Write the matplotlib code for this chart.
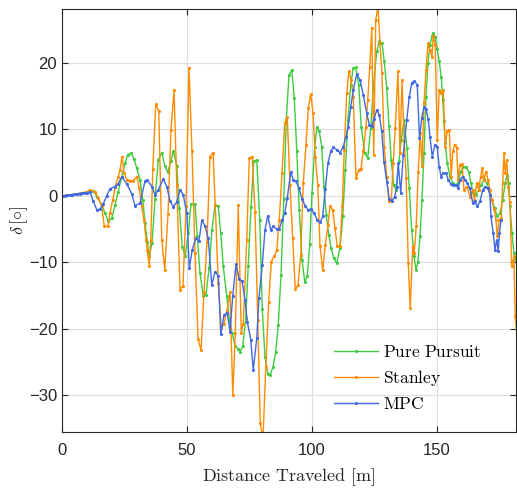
import matplotlib
matplotlib.use("Agg")
import matplotlib.pyplot as plt

plt.rcParams['font.family'] = ['Liberation Sans', 'DejaVu Sans']
plt.rcParams['mathtext.fontset'] = 'cm'

# Pure Pursuit
gx = [0, 2, 4, 6, 8, 10, 12.5, 13.9, 15.9, 17.2,
      18.5, 19.9, 21.2, 22.5, 23.9, 25.2, 26.3, 27.6, 28.8, 29.9,
      31.2, 32.3, 33.2, 34.1, 34.9, 36.0, 37.2, 38.5, 39.9, 41.1,
      42.3, 43.5, 44.5, 45.9, 46.9, 48.1, 49.3, 50.5, 51.6, 53.2,
      54.1, 55.2, 56.5, 57.6, 58.8, 60.0, 61.2, 62.5, 63.5, 64.5,
      65.9, 66.9, 68.1, 69.2, 70.3, 71.2, 72.3, 73.5, 74.5, 75.6,
      76.7, 77.9, 79.1, 80.1, 81.2, 82.3, 83.3, 84.4, 85.5, 86.5,
      87.6, 88.7, 89.7, 90.8, 91.9, 92.9, 93.9, 94.9, 96.0, 97.1,
      98.1, 99.1, 100.0, 101.1, 102.0, 102.9, 103.9, 104.8, 105.7, 106.7,
      107.7, 108.7, 109.9, 111.2, 112.3, 113.3, 114.4, 115.5, 116.5, 117.5,
      118.7, 119.7, 121.1, 122.3, 123.5, 124.5, 125.9, 126.9, 128.0, 128.9,
      129.9, 130.8, 131.7, 132.7, 133.6, 134.8, 135.7, 136.8, 138.0, 138.9,
      139.9, 140.8, 141.6, 142.4, 143.2, 144.0, 144.8, 145.6, 146.4, 147.2,
      148.0, 148.5, 149.3, 150.1, 150.9, 151.7, 152.3, 152.8, 153.3, 154.1,
      155.2, 156.3, 157.3, 158.4, 159.5, 160.5, 161.6, 162.7, 163.6, 164.5,
      165.6, 166.7, 167.7, 168.8, 169.9, 170.9, 172.0, 173.1, 174.1, 175.2,
      176.3, 177.3, 178.1, 178.7, 179.2, 180.0, 180.8, 181.6]
gy = [0, 0.1, 0.2, 0.3, 0.45, 0.6, 0.8, -0.1, -1.35, -2.6,
      -3.85, -3.35, -1.35, 0.65, 2.9, 4.9, 6.2, 6.4, 5.6, 4.15,
      2.4, -0.6, -4.1, -6.9, -9.1, -7.1, -0.45, 5.4, 6.5, 4.5,
      3.55, 5.2, 6.7, 4.5, -1.85, -7.7, -9.1, -5.6, -1.25, -1.25,
      -6.1, -11.6, -15.0, -14.9, -10.9, -5.1, -1.45, -1.55, -5.6, -10.6,
      -15.1, -18.6, -20.6, -22.5, -23.0, -23.4, -22.6, -18.4, -10.6, -1.7,
      5.2, 5.4, -3.7, -17.0, -24.2, -26.7, -26.9, -25.7, -23.4, -19.4,
      -11.9, -0.45, 11.4, 18.2, 18.9, 14.7, 6.8, -2.1, -9.6, -12.9,
      -12.1, -7.3, 0.4, 7.4, 10.4, 9.7, 7.4, 1.4, -2.9, -5.9,
      -7.9, -9.4, -10.1, -7.9, -3.1, 3.9, 11.4, 16.7, 19.2, 19.3,
      16.7, 10.4, 6.4, 5.7, 10.2, 16.2, 21.7, 23.2, 23.0, 20.2,
      16.2, 10.5, 5.4, 1.65, 0.9, 5.2, 8.4, 11.4, 7.2, 1.15,
      -5.1, -9.1, -11.1, -9.9, -6.1, -0.6, 6.4, 14.9, 19.95, 22.7,
      24.0, 24.5, 23.9, 22.0, 20.2, 17.9, 14.4, 11.2, 7.9, 4.9,
      2.9, 1.9, 1.65, 1.9, 3.65, 4.4, 4.3, 3.65, 1.9, 0.4,
      0.15, 0.9, 1.65, 2.5, 1.9, 0.9, -0.6, -1.85, -3.1, -2.6,
      -0.6, 1.9, 3.15, 1.9, -1.6, -5.6, -8.6, -9.6]

# Stanley
ox = [0, 2, 4, 6, 8, 10, 11.2, 13.2, 14.5, 15.9,
      16.9, 18.3, 19.2, 20.3, 21.3, 22.5, 23.2, 24.0, 24.8, 25.9,
      27.2, 28.5, 29.9, 30.9, 31.9, 32.8, 33.6, 34.1, 34.9, 35.5,
      36.3, 37.5, 38.7, 39.9, 41.1, 42.4, 43.6, 44.8, 45.9, 47.2,
      48.4, 49.6, 50.8, 52.0, 53.2, 54.4, 55.6, 56.8, 58.0, 59.2,
      60.4, 61.3, 62.5, 63.7, 64.8, 65.9, 67.2, 68.3, 69.3, 70.5,
      71.7, 72.5, 73.9, 74.9, 76.1, 77.2, 78.3, 79.3, 80.4, 81.5,
      82.7, 83.7, 84.8, 85.9, 86.9, 88.0, 89.1, 90.1, 91.2, 92.3,
      93.3, 94.4, 95.5, 96.5, 97.6, 98.5, 99.5, 100.4, 101.3, 102.3,
      103.2, 104.3, 105.3, 106.4, 107.2, 108.3, 109.2, 110.1, 111.2, 112.1,
      112.9, 113.9, 114.8, 115.6, 116.5, 117.6, 118.7, 119.6, 120.5, 121.6,
      122.3, 123.1, 123.9, 124.7, 125.5, 126.4, 127.2, 128.0, 128.9, 129.9,
      130.8, 131.7, 132.5, 133.3, 134.4, 135.2, 136.0, 136.9, 137.7, 138.5,
      139.3, 140.3, 140.9, 141.7, 142.5, 143.3, 144.0, 144.8, 145.6, 146.4,
      147.2, 148.0, 148.5, 149.3, 150.1, 150.9, 151.7, 152.5, 153.3, 154.1,
      154.9, 155.7, 156.3, 157.1, 157.9, 158.4, 159.2, 160.0, 160.8, 162.0,
      163.2, 164.3, 165.0, 165.9, 166.7, 167.5, 168.1, 168.8, 169.6, 170.4,
      171.2, 172.0, 172.8, 173.6, 174.1, 174.9, 175.7, 176.3, 176.8, 177.3,
      177.9, 178.5, 179.2, 179.9, 180.8, 181.3, 181.9]
oy = [0, 0.1, 0.2, 0.3, 0.45, 0.6, 0.9, 0.65, -0.35, -1.6,
      -4.6, -4.6, -2.6, -0.6, 1.4, 2.9, 3.9, 5.9, 3.4, 2.4,
      2.3, 2.3, 2.9, 1.15, -1.6, -3.6, -6.6, -8.1, -10.5, -6.6,
      4.0, 13.8, 12.7, -6.6, -11.1, -2.7, 9.9, 15.9, 1.65, -14.1,
      -13.5, -1.6, 19.2, 6.7, -8.6, -21.5, -23.2, -14.5, -6.9, 5.9,
      6.5, -1.45, -13.1, -19.9, -19.2, -17.4, -14.4, -30.0, -20.6, -1.45,
      -20.6, -19.2, -6.6, 5.65, 5.9, -2.45, -18.6, -34.2, -36.5, -25.7,
      -15.9, -9.9, -9.1, -8.2, -3.6, 3.4, 10.9, 11.8, 1.65, -6.4,
      -14.0, -13.4, -8.9, 1.9, 7.7, 13.2, 15.3, 12.4, 5.9, 1.65,
      -7.5, -11.2, -7.4, -4.4, -1.5, -2.2, -4.9, -7.6, -7.5, -1.6,
      6.9, 15.4, 18.7, 17.4, 14.9, 2.65, 3.9, 4.1, 6.7, 10.4,
      14.4, 19.4, 25.2, 6.2, 26.4, 28.5, 22.9, 18.4, 7.4, 2.9,
      -0.85, -0.75, 4.9, 10.2, 18.7, 6.4, 17.4, 8.2, 2.65, -10.1,
      -16.9, -7.6, -8.6, -4.6, 3.65, 9.5, 4.5, 13.9, 18.9, 22.9,
      21.9, 20.9, 24.0, 22.6, 8.4, 15.9, 15.4, 15.9, 7.4, 9.7,
      9.9, 2.9, 6.7, 7.7, 7.2, 2.4, 4.7, 4.8, 0.9, 1.4,
      -0.1, 0.9, -0.6, 1.9, 0.9, 2.9, 4.15, 2.4, 3.65, 2.4,
      0.9, -0.6, -2.0, -3.6, -6.1, -3.6, -3.3, 1.9, 6.4, 3.4,
      5.4, 1.4, -1.0, -10.6, -9.1, -18.1, -20.6]

# MPC
bx = [0, 1, 2, 3, 4, 5, 6, 7, 8, 9,
      10, 11.2, 12.5, 13.9, 15.2, 16.5, 17.9, 19.2, 21.2, 22.5,
      23.9, 25.9, 27.9, 29.2, 31.2, 33.2, 34.1, 35.9, 37.2, 38.5,
      40.5, 41.9, 43.2, 44.5, 45.9, 47.2, 48.5, 49.9, 50.9, 52.1,
      53.5, 54.8, 55.9, 57.2, 58.5, 59.9, 61.2, 62.5, 63.5, 64.8,
      66.1, 67.2, 68.3, 69.6, 70.9, 72.0, 73.2, 74.1, 75.5, 76.5,
      77.9, 78.8, 80.1, 81.2, 82.3, 83.5, 84.5, 85.9, 86.9, 88.0,
      89.1, 90.1, 91.5, 92.5, 93.6, 94.7, 96.0, 97.3, 98.4, 99.5,
      100.8, 102.1, 103.2, 104.3, 105.3, 106.4, 107.5, 108.5, 109.9, 111.2,
      112.5, 113.6, 114.5, 115.5, 116.5, 117.9, 119.2, 120.5, 121.9, 122.9,
      123.9, 124.9, 125.9, 126.9, 127.9, 128.8, 129.9, 130.9, 132.0, 133.1,
      133.9, 134.5, 135.5, 136.5, 137.9, 138.9, 139.9, 141.0, 142.1, 143.0,
      143.9, 144.8, 145.6, 146.5, 147.2, 148.1, 149.2, 150.1, 150.9, 151.6,
      152.5, 153.6, 154.5, 155.5, 156.5, 157.6, 158.5, 159.2, 160.3, 161.2,
      162.1, 163.2, 164.3, 165.2, 166.1, 167.2, 168.3, 169.2, 170.3, 171.2,
      171.6, 172.5, 173.2, 173.9, 174.5, 175.0, 175.6]
by = [0, 0.05, 0.1, 0.15, 0.2, 0.25, 0.3, 0.35, 0.4, 0.45,
      0.5, 0.55, -0.8, -2.1, -2.0, -1.2, 0.05, 1.05, 1.4, 1.8,
      2.9, 1.8, 0.3, -1.5, -1.1, 2.2, 2.4, 1.4, 0.15, 0.9,
      2.55, 1.4, -0.75, -1.7, -0.9, 0.9, 0.15, -2.6, -10.9, -8.1,
      -6.4, -6.8, -3.7, -4.5, -6.4, -13.4, -11.4, -12.0, -20.8, -17.9,
      -17.6, -20.4, -15.0, -10.3, -12.5, -12.8, -15.6, -18.9, -21.6, -26.2,
      -21.4, -15.3, -10.4, -5.1, -3.0, -5.1, -4.6, -5.0, -5.0, -3.7,
      -2.6, -0.35, 3.6, 2.4, 2.2, 1.2, -0.45, -1.5, -2.1, -2.0,
      -2.6, -3.6, -4.0, -3.1, 1.05, 4.9, 6.7, 7.3, 6.9, 6.5,
      7.4, 8.9, 10.4, 13.3, 15.9, 18.3, 17.4, 15.2, 12.4, 10.7,
      10.5, 11.6, 12.9, 12.2, 9.7, 5.1, 2.15, -0.5, -0.75, -0.1,
      1.4, 4.9, 0.4, 6.2, 11.4, 14.8, 17.0, 17.2, 16.7, 8.7,
      11.7, 13.3, 13.0, 11.5, 8.9, 5.9, 7.7, 7.3, 4.4, 2.9,
      3.4, 3.4, 2.4, 1.8, 1.6, 1.7, 1.15, 2.4, 2.9, 2.4,
      1.9, 1.15, -1.1, -0.85, -1.6, -0.85, 0.9, 1.4, 1.15, 0.15,
      -3.1, -5.6, -8.1, -6.6, -8.3, -5.6, -3.6]

xticks = [0, 50, 100, 150]
yticks = [-30, -20, -10, 0, 10, 20]

fig = plt.figure(figsize=(5.17, 4.91), dpi=100)
ax = fig.add_axes([0.12, 0.12, 0.878, 0.862])

ax.plot(gx, gy, color='#3fcc3f', lw=1, marker='.', ms=2.5, label=r'$\mathrm{Pure\ Pursuit}$')
ax.plot(ox, oy, color='#ff8c00', lw=1, marker='.', ms=2.5, label=r'$\mathrm{Stanley}$')
ax.plot(bx, by, color='#4169e1', lw=1, marker='.', ms=2.5, label=r'$\mathrm{MPC}$')

ax.set_xlim(0, 181.6)
ax.set_ylim(-35.5, 28.1)
ax.set_xticks(xticks)
ax.set_yticks(yticks)
ax.grid(True, color='#dddddd', lw=0.8)
ax.set_axisbelow(True)
ax.tick_params(direction='in', top=True, right=True, length=4, labelsize=12, colors='#262626')
ax.tick_params(axis='x', pad=8)
for s in ax.spines.values():
    s.set_color('#262626')
    s.set_linewidth(0.8)

ax.set_xlabel(r'$\mathrm{Distance\ Traveled\ [m]}$', fontsize=13, color='#262626', labelpad=6)
ax.set_ylabel(r'$\delta\,[\circ]$', fontsize=13, color='#262626', labelpad=-1)

ax.legend(loc='upper left', bbox_to_anchor=(0.565, 0.245), frameon=False, fontsize=12.5,
          handlelength=2.5, handletextpad=0.3, labelspacing=0.45)

fig.savefig('out.png', dpi=100)
